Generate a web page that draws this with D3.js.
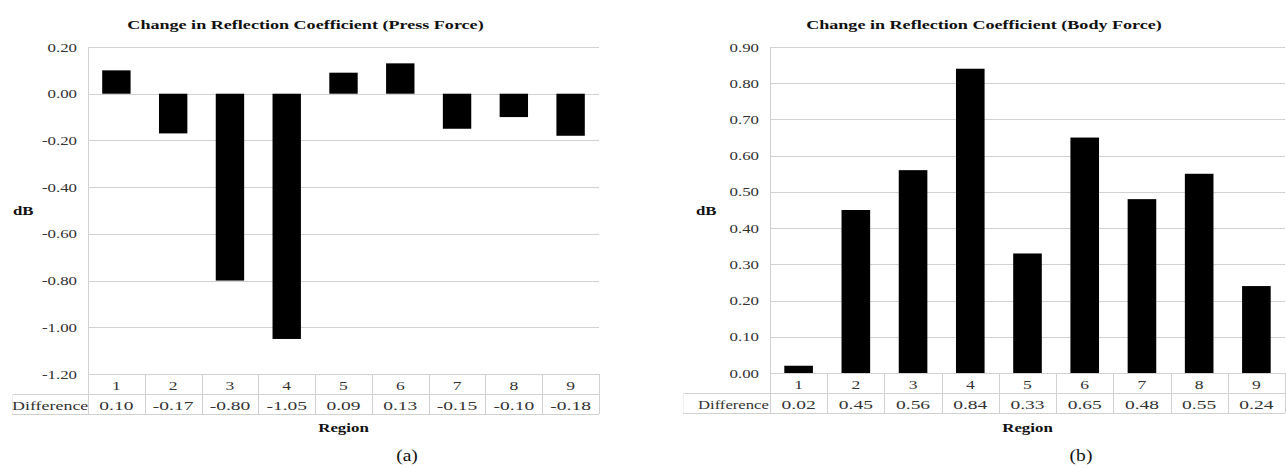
<!DOCTYPE html>
<html>
<head>
<meta charset="utf-8">
<script src="https://cdn.jsdelivr.net/npm/d3@7"></script>
<style>
  html, body { margin: 0; padding: 0; background: #fff; }
  svg { display: block; }
</style>
</head>
<body>
<svg id="chart" width="1286" height="468"></svg>
<script>
// Region labels shared by both panels
const regions = ["1", "2", "3", "4", "5", "6", "7", "8", "9"];

// Change in reflection coefficient (dB) per region
const pressForce = [0.10, -0.17, -0.80, -1.05, 0.09, 0.13, -0.15, -0.10, -0.18];
const bodyForce  = [0.02, 0.45, 0.56, 0.84, 0.33, 0.65, 0.48, 0.55, 0.24];

// Value-axis ticks
const pressTicks = [0.20, 0.00, -0.20, -0.40, -0.60, -0.80, -1.00, -1.20];
const bodyTicks  = [0.00, 0.10, 0.20, 0.30, 0.40, 0.50, 0.60, 0.70, 0.80, 0.90];

const titles = [
  "Change in Reflection Coefficient (Press Force)",
  "Change in Reflection Coefficient (Body Force)"
];
const captions = ["(a)", "(b)"];
const rowHeader = "Difference";
const axisTitleY = "dB";
const axisTitleX = "Region";

const FONT = "'Liberation Serif', 'DejaVu Serif', serif";
const fmt = d3.formatLocale({decimal: ".", thousands: ",", grouping: [3], currency: ["", ""], minus: "-"}).format(".2f");

const svg = d3.select("#chart");
const SX = 1.35;          // horizontal stretch of the lettering
const gridColor = "#d0d0d0";

function label(g, str, x, y, opts = {}) {
  const sx = opts.sx == null ? SX : opts.sx;
  return g.append("text")
    .attr("transform", `translate(${x},${y}) scale(${sx},1)`)
    .attr("text-anchor", opts.anchor || "middle")
    .attr("font-family", FONT)
    .attr("font-size", opts.size || 12)
    .attr("font-weight", opts.bold ? "bold" : "normal")
    .attr("fill", opts.fill || "#333")
    .attr("dy", opts.dy || 0)
    .text(str);
}

function drawPanel(cfg) {
  const g = svg.append("g");
  const x = d3.scaleBand().domain(regions)
    .range([cfg.left, cfg.right]).paddingInner(0.5).paddingOuter(0.25);
  const y = d3.scaleLinear().domain(cfg.domain).range([cfg.top, cfg.bottom]);

  // horizontal gridlines
  g.append("g").selectAll("line").data(cfg.ticks).join("line")
    .attr("x1", cfg.left).attr("x2", cfg.right)
    .attr("y1", d => Math.round(y(d)) + 0.5).attr("y2", d => Math.round(y(d)) + 0.5)
    .attr("stroke", gridColor).attr("stroke-width", 1);

  // value axis via d3.axisLeft, showing only the labels
  const ax = g.append("g").attr("transform", `translate(${cfg.left},0)`)
    .call(d3.axisLeft(y).tickValues(cfg.ticks).tickFormat(fmt).tickSize(0).tickPadding(11));
  ax.attr("font-family", FONT);
  ax.select(".domain").remove();
  ax.selectAll(".tick text").each(function () {
    const t = d3.select(this);
    const xo = +t.attr("x");
    t.attr("x", 0)
      .attr("font-family", FONT)
      .attr("font-size", 12.5)
      .attr("fill", "#333")
      .attr("transform", `translate(${xo},0) scale(${SX},1)`);
  });

  // table geometry
  const rowTop = y(cfg.domain[1]);
  const row1 = rowTop + 20;
  const row2 = rowTop + 40;
  const step = x.step();

  // value-axis line extending through the table
  g.append("line")
    .attr("x1", cfg.left + 0.5).attr("x2", cfg.left + 0.5)
    .attr("y1", cfg.top).attr("y2", row2)
    .attr("stroke", gridColor);
  // cell dividers
  g.append("g").selectAll("line").data(regions).join("line")
    .attr("x1", d => Math.round(x(d) - x.bandwidth() / 2 + step) + 0.5)
    .attr("x2", d => Math.round(x(d) - x.bandwidth() / 2 + step) + 0.5)
    .attr("y1", rowTop).attr("y2", row2)
    .attr("stroke", gridColor);
  // row lines, running under the header column left of the plot
  [row1, row2].forEach(yy => {
    g.append("line")
      .attr("x1", cfg.tableLeft).attr("x2", cfg.right)
      .attr("y1", Math.round(yy) + 0.5).attr("y2", Math.round(yy) + 0.5)
      .attr("stroke", gridColor);
  });
  g.append("line")
    .attr("x1", cfg.tableLeft + 0.5).attr("x2", cfg.tableLeft + 0.5)
    .attr("y1", row1).attr("y2", row2)
    .attr("stroke", "#eeeeee");

  // bars
  g.append("g").selectAll("rect").data(cfg.values).join("rect")
    .attr("x", (d, i) => x(regions[i]))
    .attr("width", x.bandwidth())
    .attr("y", d => y(Math.max(0, d)))
    .attr("height", d => Math.abs(y(d) - y(0)))
    .attr("fill", "#000");

  // table text
  regions.forEach((r, i) => {
    const cx = x(r) + x.bandwidth() / 2;
    label(g, r, cx, rowTop + 16, {size: 13});
    label(g, fmt(cfg.values[i]), cx, row1 + 16, {size: 13, sx: 1.5});
  });
  label(g, rowHeader, cfg.headerX, row1 + 16, {anchor: "start", size: 13, sx: cfg.headerSx});

  // titles
  const tMid = (cfg.tableLeft + cfg.right) / 2;
  label(g, cfg.title, tMid, 29, {bold: true, size: 13.5, fill: "#111", sx: cfg.titleSx});
  label(g, axisTitleY, cfg.dbX, 215, {bold: true, size: 12.5, fill: "#111", anchor: "start"});
  label(g, axisTitleX, (cfg.left + cfg.right) / 2, 432, {bold: true, size: 12.5, fill: "#111"});
  label(g, cfg.caption, cfg.captionX, 461, {size: 17, fill: "#111", sx: 1.15});
}

drawPanel({
  values: pressForce, ticks: pressTicks, domain: [0.20, -1.20],
  left: 88, right: 599, top: 47, bottom: 374, tableLeft: 12, headerX: 12,
  title: titles[0], titleSx: 1.34, headerSx: 1.38, dbX: 13, caption: captions[0], captionX: 407
});
drawPanel({
  values: bodyForce, ticks: bodyTicks, domain: [0.90, 0.00],
  left: 770, right: 1285, top: 47, bottom: 373, tableLeft: 683, headerX: 698,
  title: titles[1], titleSx: 1.34, headerSx: 1.28, dbX: 696, caption: captions[1], captionX: 1081
});
</script>
</body>
</html>
